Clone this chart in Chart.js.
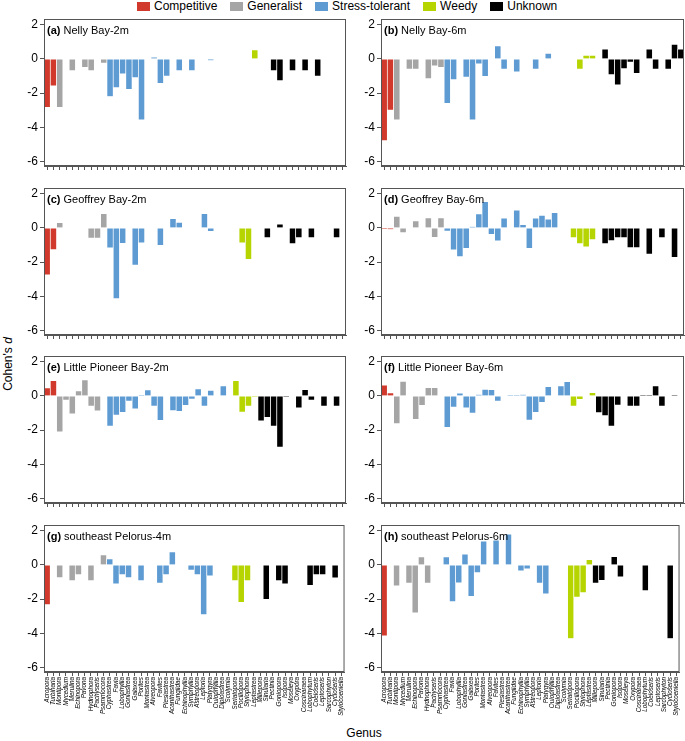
<!DOCTYPE html>
<html lang="en">
<head>
<meta charset="UTF-8">
<title>Cohen's d by genus</title>
<script src="https://cdn.jsdelivr.net/npm/chart.js@4"></script>
<style>
  body { margin: 0; width: 685px; height: 741px; position: relative; background: #fff; overflow: hidden;
         font-family: "Liberation Sans", Arial, sans-serif; color: #000; }
  canvas { position: absolute; }
  .legend { position: absolute; top: 0; left: 137px; height: 12px; display: flex; align-items: center; font-size: 12px; }
  .legend .item { display: flex; align-items: center; margin-right: 13px; }
  .legend .box { display: inline-block; width: 13px; height: 9px; margin-right: 4px; }
  .ytitle { position: absolute; left: -22px; top: 357px; width: 60px; text-align: center; font-size: 12px; transform: rotate(-90deg); }
  .xtitle { position: absolute; left: 334px; top: 726px; width: 60px; text-align: center; font-size: 12px; }
</style>
</head>
<body>
<div class="legend" id="legend"></div>
<div class="ytitle">Cohen's <i>d</i></div>
<div class="xtitle">Genus</div>

<script>
// genera along the x axis
const GENERA = ['Acropora','Turbinaria','Montipora','Mycedium','Merulina','Echinopora','Pavona','Hydnophora',
  'Pachyseris','Psammocora','Cyphastrea','Favia','Lobophyllia','Goniastrea','Galaxea','Porites','Montastrea',
  'Alveopora','Favites','Plesiastrea','Acanthastrea','Fungiidae','Echinophyllia','Symphyllia','Astreopora',
  'Leptoria','Platygyra','Oulophyllia','Diploastrea','Scolymia','Seriatopora','Pocillopora','Stylophora',
  'Leptastrea','Millepora','Sinularia','Pectinia','Goniopora','Isopora','Moseleya','Oxypora','Coscinaraea',
  'Lobophytum','Coeloseris','Leptoseris','Sarcophyton','Cycloseris','Stylocoeniella'];

// life-history group of each genus (index into GROUPS)
const GROUPS = ['Competitive', 'Generalist', 'Stress-tolerant', 'Weedy', 'Unknown'];
const GROUP_COLORS = ['#d0392b', '#a5a5a5', '#5e9bd3', '#b6d400', '#000000'];
const GENUS_GROUP = [0,0, 1,1,1,1,1,1,1,1,
  2,2,2,2,2,2,2,2,2,2,2,2,2,2,2,2,2,2,2,2,
  3,3,3,3,
  4,4,4,4,4,4,4,4,4,4,4,4,4,4];

const Y_TICKS = [-6, -4, -2, 0, 2];

// Cohen's d per genus, one array per site (null = genus absent)
const nellyBay2m = [-2.83,-1.58,-2.83,null,-0.68,null,-0.5,-0.68,null,-0.25,
  -2.2,-1.68,-0.88,-1.78,-1.1,-3.57,null,0.1,-1.43,-1.0,null,-0.68,null,-0.68,null,null,-0.08,null,null,null,
  null,null,null,0.53,
  null,null,-0.68,-1.27,null,-0.68,null,-0.68,null,-1.0,null,null,null,null];

const nellyBay6m = [-4.78,-2.99,-3.57,null,-0.59,-0.59,null,-1.15,-0.41,-0.5,
  -2.6,-1.21,null,-1.07,-3.57,-0.29,-1.02,null,0.76,-0.59,null,-0.76,null,null,-0.59,null,0.33,null,null,null,
  null,-0.59,0.21,0.21,
  null,0.57,-0.92,-1.52,-0.57,-0.18,-0.84,null,0.57,-0.59,null,-0.59,0.86,0.57];

const geoffreyBay2m = [-2.75,-1.27,0.31,null,null,null,null,-0.59,-0.59,0.84,
  -1.17,-4.14,-0.9,null,-2.17,-0.88,null,null,-1.02,null,0.55,0.33,null,null,null,0.84,-0.2,null,null,null,
  null,-0.88,-1.84,null,
  null,-0.57,null,0.23,null,-0.92,-0.57,null,-0.57,null,null,null,-0.57,null];

const geoffreyBay6m = [-0.05,-0.07,0.68,-0.27,null,0.41,null,0.59,-0.55,0.59,
  -0.18,-1.29,-1.68,-1.19,0.06,0.82,1.54,-0.37,-0.76,0.57,null,1.04,0.2,-1.19,0.57,0.74,0.51,0.9,null,null,
  -0.57,-0.92,-1.11,-0.68,
  null,-0.92,-0.74,-0.57,-0.57,-1.15,-1.15,null,-1.54,null,-0.57,null,-1.72,null];

const littlePioneer2m = [0.47,0.9,-2.11,-0.25,-1.05,0.29,0.94,-0.59,-0.88,null,
  -1.76,-1.13,-0.96,-0.31,-0.76,0.03,0.35,-0.59,-1.43,null,-0.86,-0.9,-0.55,-0.18,0.41,-0.59,0.33,null,0.59,null,
  0.9,-0.94,-0.59,-0.02,
  -1.46,-1.25,-1.76,-3.0,-0.02,null,-0.7,0.37,-0.25,null,-0.59,null,-0.59,null];

const littlePioneer6m = [0.63,0.18,-1.62,0.86,null,-1.37,-0.55,0.49,0.49,null,
  -1.84,-0.65,0.16,-0.7,-1.0,0.08,0.39,0.37,-0.31,null,0.02,0.02,0.08,-1.41,-0.96,-0.37,0.55,null,0.59,0.84,
  -0.59,-0.2,null,0.2,
  -0.98,-1.15,-1.76,-0.53,null,-0.59,-0.59,0.02,0.02,0.59,-0.59,null,0.02,null];

const pelorus4m = [-2.33,null,-0.74,null,-0.92,-0.57,null,-0.92,null,0.59,
  0.35,-1.11,-0.57,-0.74,null,-0.92,null,null,-1.07,-0.57,0.76,null,null,-0.31,-0.57,-2.91,-0.64,null,null,null,
  -0.92,-2.19,-0.92,null,
  null,-2.01,null,-0.92,-1.11,null,null,null,-1.19,-0.57,-0.57,null,-0.76,null];

const pelorus6m = [-4.16,null,-1.23,null,-1.07,-2.8,0.47,-1.07,null,null,
  0.47,-2.15,-1.05,0.63,-1.84,-0.45,1.39,null,1.45,null,1.8,null,-0.35,-0.23,null,-1.07,-1.7,null,null,null,
  -4.31,-1.88,-1.62,0.31,
  -1.07,-0.9,null,0.49,-0.7,null,null,null,-1.5,null,null,null,-4.31,null];

const PANELS = [
  { tag: '(a)', name: 'Nelly Bay-2m', data: nellyBay2m },
  { tag: '(b)', name: 'Nelly Bay-6m', data: nellyBay6m },
  { tag: '(c)', name: 'Geoffrey Bay-2m', data: geoffreyBay2m },
  { tag: '(d)', name: 'Geoffrey Bay-6m', data: geoffreyBay6m },
  { tag: '(e)', name: 'Little Pioneer Bay-2m', data: littlePioneer2m },
  { tag: '(f)', name: 'Little Pioneer Bay-6m', data: littlePioneer6m },
  { tag: '(g)', name: 'southeast Pelorus-4m', data: pelorus4m },
  { tag: '(h)', name: 'southeast Pelorus-6m', data: pelorus6m }
];

const FONT = '"Liberation Sans", Arial, sans-serif';
const AXIS = '#555';

// legend
const legend = document.getElementById('legend');
GROUPS.forEach((g, i) => {
  const item = document.createElement('div');
  item.className = 'item';
  item.innerHTML = '<span class="box" style="background:' + GROUP_COLORS[i] + '"></span>' + g;
  legend.appendChild(item);
});

// frame round the plot + panel title
const panelDecor = {
  id: 'panelDecor',
  afterDraw(chart, args, opts) {
    const { ctx, chartArea: a } = chart;
    ctx.save();
    ctx.strokeStyle = AXIS;
    ctx.lineWidth = 1;
    ctx.strokeRect(a.left + 0.5, a.top + 0.5, a.right - a.left - 1, a.bottom - a.top - 1);
    ctx.fillStyle = '#000';
    ctx.textBaseline = 'middle';
    ctx.font = 'bold 11px ' + FONT;
    ctx.fillText(opts.tag, a.left + 3, a.top + 11.5);
    const w = ctx.measureText(opts.tag + ' ').width;
    ctx.font = '11px ' + FONT;
    ctx.fillText(opts.name, a.left + 3 + w, a.top + 11.5);
    ctx.restore();
  }
};

const PLOT_H = 147;
PANELS.forEach((p, i) => {
  const col = i % 2, row = Math.floor(i / 2);
  const bottomRow = row === 3;
  const plotTop = 19 + row * 168.6;
  const cv = document.createElement('canvas');
  const w = col === 0 ? 350 : 348;
  const h = bottomRow ? 10 + PLOT_H + 56 : 10 + PLOT_H + 6 + 4;
  cv.width = w; cv.height = h;
  cv.style.left = (col === 0 ? 0 : 337) + 'px';
  cv.style.top = Math.round(plotTop - 10) + 'px';
  cv.style.width = w + 'px'; cv.style.height = h + 'px';
  document.body.appendChild(cv);

  new Chart(cv.getContext('2d'), {
    type: 'bar',
    data: {
      labels: GENERA,
      datasets: [{
        data: p.data,
        backgroundColor: GENUS_GROUP.map(g => GROUP_COLORS[g]),
        borderColor: 'rgba(255,255,255,0.8)',
        borderWidth: 0.7,
        barPercentage: 1,
        categoryPercentage: 1
      }]
    },
    options: {
      responsive: false,
      animation: false,
      devicePixelRatio: 1,
      layout: { padding: { top: 10, left: 0, right: col === 0 ? 4 : 1, bottom: bottomRow ? 0 : 4 } },
      plugins: {
        legend: { display: false },
        tooltip: { enabled: false },
        panelDecor: { tag: p.tag, name: p.name }
      },
      scales: {
        x: {
          offset: true,
          afterFit: s => { s.height = bottomRow ? 56 : 6; },
          ticks: {
            display: bottomRow,
            autoSkip: false,
            minRotation: 90,
            maxRotation: 90,
            padding: 1,
            color: '#000',
            font: { family: FONT, size: 6.3, style: 'italic' }
          },
          grid: { offset: false, drawOnChartArea: false, tickLength: 4, color: AXIS },
          border: { color: AXIS, width: 1 }
        },
        y: {
          min: -6.27,
          max: 2.34,
          afterFit: s => { s.width = 44; },
          afterBuildTicks: s => { s.ticks = Y_TICKS.map(v => ({ value: v })); },
          ticks: {
            padding: 2,
            color: '#000',
            font: { family: FONT, size: 12 },
            callback: v => String(v)
          },
          grid: { drawOnChartArea: false, tickLength: 4, color: AXIS },
          border: { color: AXIS, width: 1 }
        }
      }
    },
    plugins: [panelDecor]
  });
});
</script>
</body>
</html>
